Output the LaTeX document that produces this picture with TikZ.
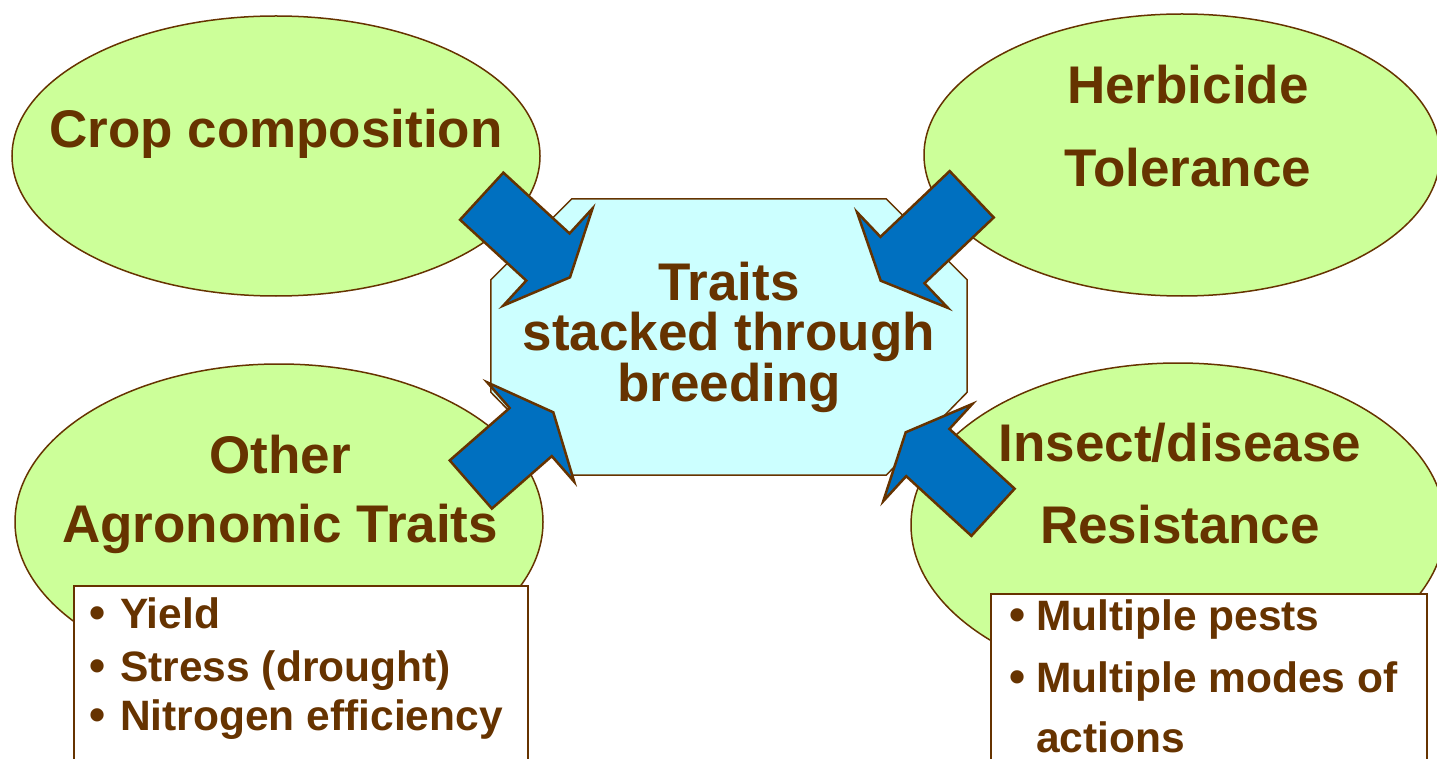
\documentclass[tikz,border=0pt]{standalone}
\usepackage{fontspec}
\setmainfont{Liberation Sans}
\usetikzlibrary{shapes.geometric,calc}

\definecolor{leaf}{HTML}{CCFF99}
\definecolor{sky}{HTML}{CCFFFF}
\definecolor{bark}{HTML}{663300}
\definecolor{flow}{HTML}{0070C0}

\tikzset{
  leafoval/.style={ellipse, draw=bark, fill=leaf, line width=1.5pt, inner sep=0pt},
  corebox/.style={rectangle, minimum width=476pt, minimum height=276pt, inner sep=0pt,
    align=center, text=bark, font=\fontsize{53}{50.5}\selectfont\bfseries},
  coreshape/.style={draw=bark, fill=sky, line width=1.5pt},
  listbox/.style={rectangle, draw=bark, fill=white, line width=2pt,
    anchor=north west, inner sep=0pt},
  title/.style={anchor=base, inner sep=0pt, text=bark,
    font=\fontsize{53}{60}\selectfont\bfseries},
  item/.style={anchor=base west, inner sep=0pt, text=bark,
    font=\fontsize{42.5}{50}\selectfont\bfseries},
  flowarrow/.style={draw=bark, fill=flow, line width=2.5pt, line join=miter},
}

% block arrow from a back midpoint (#2) to a tip (#3)
\newcommand{\blockarrow}[3]{%
  \path ($(#3)!30pt!(#2)$) coordinate (#1neck);
  \draw[flowarrow]
    ($(#2)!32pt!90:(#3)$) -- ($(#1neck)!32pt!90:(#3)$) --
    ($(#1neck)!66pt!90:(#3)$) -- (#3) --
    ($(#1neck)!66pt!-90:(#3)$) -- ($(#1neck)!32pt!-90:(#3)$) --
    ($(#2)!32pt!-90:(#3)$) -- cycle;
}

\newcommand{\bul}[1]{\makebox[#1][c]{\fontsize{46}{46}\selectfont\textbullet}}

\begin{document}
\begin{tikzpicture}[x=1pt, y=-1pt]
\useasboundingbox (0,0) rectangle (1437,759);
\begin{scope}
\clip (0,0) rectangle (1437,759);

% the four trait groups
\node[leafoval, minimum width=528pt, minimum height=280pt] (crop) at (276,156) {};
\node[leafoval, minimum width=516pt, minimum height=282pt] (herb) at (1182,155) {};
\node[leafoval, minimum width=528pt, minimum height=316pt] (agro) at (279,522) {};
\node[leafoval, minimum width=534pt, minimum height=324pt] (pest) at (1178,525) {};

\node[title] (cropt) at (276,148) {Crop composition};
\node[title] (herbt1) at (1188,104) {Herbicide};
\node[title] (herbt2) at (1188,187) {Tolerance};
\node[title] (agrot1) at (280,473) {Other};
\node[title] (agrot2) at (280,542) {Agronomic Traits};
\node[title] (pestt1) at (1180,461) {Insect/disease};
\node[title] (pestt2) at (1180,543) {Resistance};

% centre: octagon with cut corners around the text
\path (729,337) node[corebox] (core) {};
\draw[coreshape]
  ($(core.north west)+(81,0)$) -- ($(core.north east)+(-81,0)$) --
  ($(core.north east)+(0,81)$) -- ($(core.south east)+(0,-83)$) --
  ($(core.south east)+(-81,0)$) -- ($(core.south west)+(81,0)$) --
  ($(core.south west)+(0,-83)$) -- ($(core.north west)+(0,81)$) -- cycle;
\node[corebox] (coretext) at (core.center) {Traits\\stacked through\\breeding};

% lists of examples
\node[listbox, minimum width=454pt, minimum height=200pt] (agrolist) at (73,585) {};
\node[item] (agro1) at (74,628) {\bul{46pt}Yield};
\node[item] (agro2) at (74,681) {\bul{46pt}Stress (drought)};
\node[item] (agro3) at (74,730) {\bul{46pt}Nitrogen efficiency};

\node[listbox, minimum width=436pt, minimum height=200pt] (pestlist) at (990,593) {};
\node[item] (pest1) at (998,630) {\bul{38pt}Multiple pests};
\node[item] (pest2) at (998,692) {\bul{38pt}Multiple modes of};
\node[item] (pest3) at (1036,752) {actions};

% arrows into the centre
\coordinate (a1back) at (481.7,196.2);
\coordinate (a1tip)  at (570,277.3);
\coordinate (a2back) at (971.7,194.3);
\coordinate (a2tip)  at (880.7,280.7);
\coordinate (a3back) at (470.8,484.5);
\coordinate (a3tip)  at (553.3,412.3);
\coordinate (a4back) at (993,512.3);
\coordinate (a4tip)  at (905.7,432.3);
\blockarrow{a1}{a1back}{a1tip}
\blockarrow{a2}{a2back}{a2tip}
\blockarrow{a3}{a3back}{a3tip}
\blockarrow{a4}{a4back}{a4tip}
\end{scope}
\end{tikzpicture}
\end{document}
